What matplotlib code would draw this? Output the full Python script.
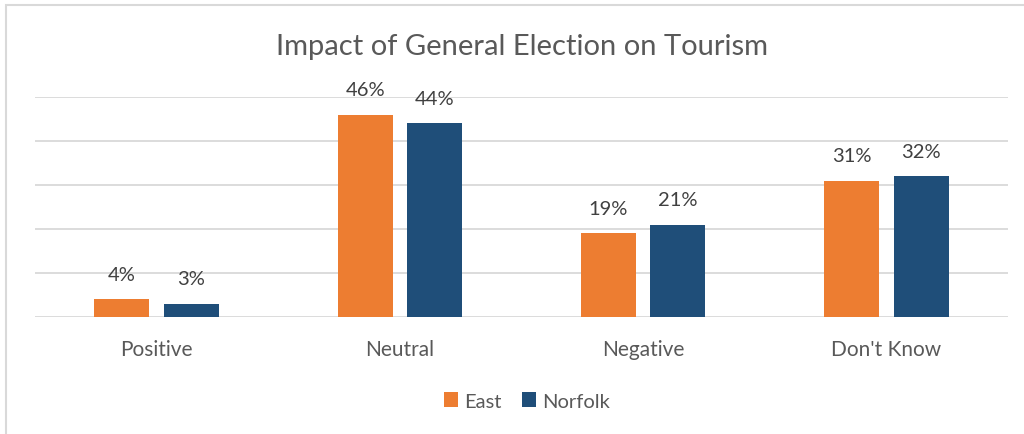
import matplotlib
matplotlib.use("Agg")
import matplotlib.pyplot as plt
from matplotlib.patches import Rectangle
import numpy as np

plt.rcParams['font.family'] = ['Lato', 'DejaVu Sans']

# data
categories = ["Positive", "Neutral", "Negative", "Don't Know"]
east = [4, 46, 19, 31]
norfolk = [3, 44, 21, 32]
series_names = ["East", "Norfolk"]
colors = ["#ED7D31", "#1F4E79"]

fig = plt.figure(figsize=(10.24, 4.35), dpi=100)
ax = fig.add_axes([35 / 1024, 1 - 318 / 435, (1008 - 35) / 1024, (318 - 98) / 435])

x = np.arange(len(categories))
w = 0.226
off = 0.143
bars_e = ax.bar(x - off, east, w, color=colors[0], label=series_names[0], zorder=3)
bars_n = ax.bar(x + off, norfolk, w, color=colors[1], label=series_names[1], zorder=3)

for bars, vals in [(bars_e, east), (bars_n, norfolk)]:
    for b, v in zip(bars, vals):
        ax.annotate(f"{v}%", (b.get_x() + b.get_width() / 2, v),
                    xytext=(0, 18), textcoords="offset points",
                    ha="center", va="center", fontsize=14.5, color="#404040")

ax.set_xlim(-0.5, len(categories) - 0.5)
ax.set_ylim(0, 50)
ax.set_yticks(np.arange(0, 51, 10))
ax.set_yticklabels([])
ax.set_xticks(x)
ax.set_xticklabels(categories, fontsize=15, color="#595959")
ax.tick_params(axis="both", length=0)
ax.tick_params(axis="x", pad=16)
ax.grid(axis="y", color="#D9D9D9", linewidth=1.3, zorder=0)
for s in ax.spines.values():
    s.set_visible(False)

fig.text(522 / 1024, 1 - 47 / 435, "Impact of General Election on Tourism",
         ha="center", va="center", fontsize=21, color="#595959")

fig.legend(loc="center", bbox_to_anchor=(527 / 1024, 1 - 402 / 435), ncol=2,
           frameon=False, fontsize=14.5, handlelength=0.7, handleheight=0.7,
           handletextpad=0.3, columnspacing=1.0, labelcolor="#595959")

# chart border (top and left edge visible)
fig.patches.append(Rectangle((5.5 / 1024, -0.1), 1.2, 1 - 5.5 / 435 + 0.1,
                             transform=fig.transFigure, fill=False,
                             edgecolor="#D9D9D9", linewidth=1.5))

fig.savefig("out.png", dpi=100)
